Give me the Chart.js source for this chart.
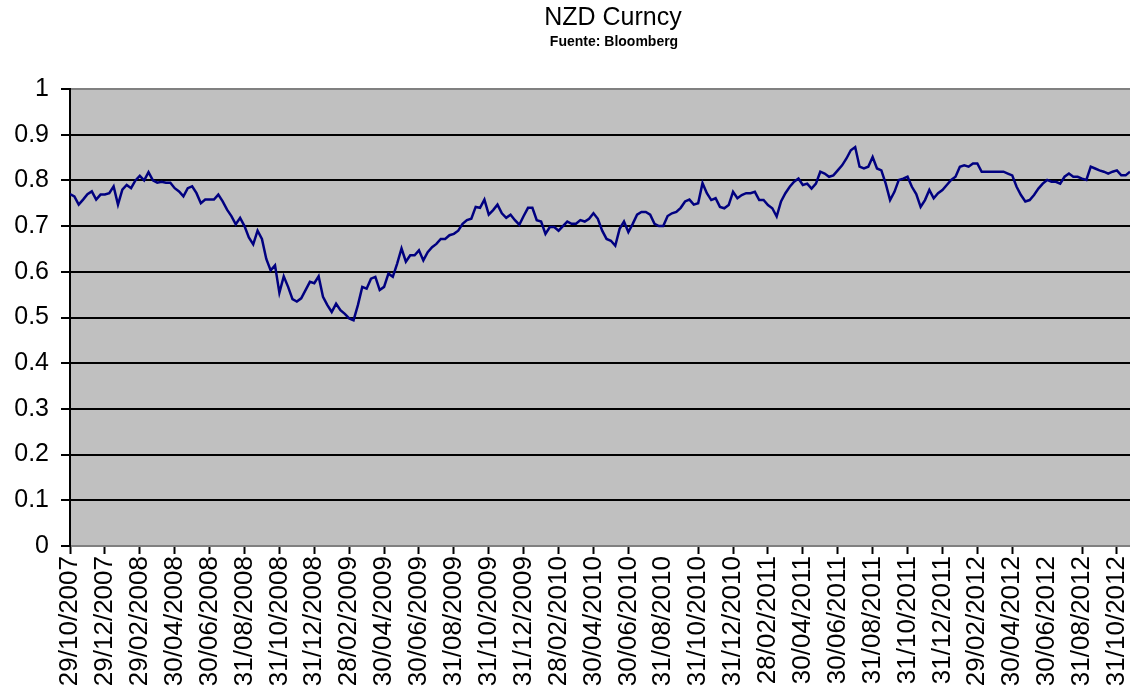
<!DOCTYPE html>
<html>
<head>
<meta charset="utf-8">
<script src="https://cdn.jsdelivr.net/npm/chart.js@4.4.0/dist/chart.umd.min.js"></script>
<style>
html, body { margin: 0; padding: 0; background: #fff; }
#wrap { width: 1130px; height: 688px; }
</style>
</head>
<body>
<div id="wrap"><canvas id="myChart" width="1130" height="688"></canvas></div>
<script>
const chartTitle = 'NZD Curncy';
const chartSource = 'Fuente: Bloomberg';

// fechas del eje x (una cada dos meses)
const dateLabels = [
	'29/10/2007', '29/12/2007', '29/02/2008', '30/04/2008', '30/06/2008', '31/08/2008',
	'31/10/2008', '31/12/2008', '28/02/2009', '30/04/2009', '30/06/2009', '31/08/2009',
	'31/10/2009', '31/12/2009', '28/02/2010', '30/04/2010', '30/06/2010', '31/08/2010',
	'31/10/2010', '31/12/2010', '28/02/2011', '30/04/2011', '30/06/2011', '31/08/2011',
	'31/10/2011', '31/12/2011', '29/02/2012', '30/04/2012', '30/06/2012', '31/08/2012',
	'31/10/2012'
];
// etiquetas sin marca de tick en el original
const noTickMark = ['31/08/2010', '30/06/2012'];

// valores semanales aprox. (8 por cada intervalo de etiqueta)
const pointsPerLabel = 8;
const nzdValues = [
	0.770, 0.765, 0.747, 0.758, 0.770, 0.776, 0.758, 0.769, 0.769, 0.772,
	0.787, 0.747, 0.780, 0.790, 0.783, 0.800, 0.810, 0.800, 0.818, 0.800,
	0.795, 0.797, 0.795, 0.795, 0.783, 0.776, 0.765, 0.783, 0.787, 0.772,
	0.750, 0.758, 0.758, 0.758, 0.769, 0.754, 0.736, 0.722, 0.704, 0.718,
	0.700, 0.675, 0.660, 0.690, 0.672, 0.628, 0.603, 0.614, 0.554, 0.590,
	0.567, 0.540, 0.535, 0.542, 0.560, 0.578, 0.575, 0.590, 0.545, 0.527,
	0.512, 0.530, 0.516, 0.508, 0.498, 0.494, 0.527, 0.567, 0.563, 0.585,
	0.589, 0.560, 0.567, 0.596, 0.589, 0.618, 0.651, 0.622, 0.636, 0.636,
	0.647, 0.625, 0.643, 0.654, 0.661, 0.672, 0.672, 0.680, 0.683, 0.690,
	0.705, 0.713, 0.716, 0.742, 0.740, 0.758, 0.725, 0.735, 0.747, 0.728,
	0.718, 0.725, 0.713, 0.703, 0.722, 0.740, 0.740, 0.713, 0.710, 0.683,
	0.698, 0.698, 0.690, 0.700, 0.710, 0.705, 0.705, 0.713, 0.710, 0.716,
	0.728, 0.716, 0.690, 0.672, 0.668, 0.657, 0.694, 0.710, 0.687, 0.705,
	0.725, 0.731, 0.731, 0.725, 0.705, 0.700, 0.700, 0.722, 0.728, 0.731,
	0.740, 0.754, 0.758, 0.747, 0.750, 0.794, 0.772, 0.757, 0.761, 0.742,
	0.739, 0.746, 0.775, 0.761, 0.768, 0.772, 0.772, 0.775, 0.757, 0.757,
	0.746, 0.739, 0.721, 0.754, 0.772, 0.786, 0.797, 0.804, 0.790, 0.793,
	0.782, 0.793, 0.819, 0.815, 0.808, 0.811, 0.822, 0.833, 0.848, 0.866,
	0.873, 0.830, 0.826, 0.830, 0.851, 0.826, 0.822, 0.793, 0.757, 0.775,
	0.801, 0.804, 0.808, 0.786, 0.770, 0.742, 0.757, 0.779, 0.761, 0.772,
	0.779, 0.790, 0.801, 0.808, 0.830, 0.833, 0.830, 0.837, 0.837, 0.819,
	0.819, 0.819, 0.819, 0.819, 0.819, 0.815, 0.811, 0.786, 0.768, 0.754,
	0.757, 0.768, 0.782, 0.793, 0.801, 0.797, 0.797, 0.793, 0.808, 0.815,
	0.808, 0.808, 0.804, 0.801, 0.830, 0.826, 0.822, 0.819, 0.815, 0.819,
	0.822, 0.811, 0.811, 0.819
];

const yMin = 0;
const yMax = 1;
const yStep = 0.1;

const FONT = '"Liberation Sans", Arial, sans-serif';

const plotBg = {
	id: 'plotBg',
	beforeDraw(chart) {
		const a = chart.chartArea;
		const c = chart.ctx;
		c.save();
		c.fillStyle = '#c0c0c0';
		c.fillRect(a.left, a.top, a.right - a.left, a.bottom - a.top);
		c.restore();
	}
};

const titles = {
	id: 'titles',
	afterDraw(chart) {
		const c = chart.ctx;
		c.save();
		c.fillStyle = '#000';
		c.textAlign = 'center';
		c.textBaseline = 'middle';
		c.font = '25px ' + FONT;
		c.fillText(chartTitle, 613, 18);
		c.font = 'bold 14px ' + FONT;
		c.fillText(chartSource, 614, 42);
		c.restore();
	}
};

const ctx = document.getElementById('myChart');

new Chart(ctx, {
	type: 'line',
	data: {
		datasets: [{
			label: chartTitle,
			data: nzdValues.map((v, i) => ({ x: i, y: v })),
			borderColor: '#000080',
			borderWidth: 2.5,
			pointRadius: 0,
			tension: 0,
			fill: false
		}]
	},
	options: {
		responsive: false,
		animation: false,
		devicePixelRatio: 1,
		layout: { padding: { top: 89, left: 0, right: 0, bottom: 0 } },
		plugins: {
			legend: { display: false },
			tooltip: { enabled: false }
		},
		scales: {
			x: {
				type: 'linear',
				min: 0,
				max: nzdValues.length - 1,
				afterBuildTicks: function(scale) {
					scale.ticks = dateLabels.map((d, k) => ({ value: k * pointsPerLabel }));
				},
				afterFit: function(scale) {
					scale.height = 142;
					scale.paddingLeft = 0;
					scale.paddingRight = 0;
				},
				ticks: {
					autoSkip: false,
					minRotation: 90,
					maxRotation: 90,
					padding: 2,
					color: '#000',
					font: { family: FONT, size: 26 },
					callback: function(value) {
						return dateLabels[Math.round(value / pointsPerLabel)];
					}
				},
				grid: {
					drawOnChartArea: false,
					drawTicks: true,
					tickLength: 8,
					tickWidth: 2,
					tickColor: function(c) {
						const lbl = dateLabels[c.index];
						return noTickMark.includes(lbl) ? 'rgba(0,0,0,0)' : '#000';
					}
				},
				border: { color: '#808080', width: 2 }
			},
			y: {
				min: yMin,
				max: yMax,
				afterFit: function(scale) {
					scale.width = 70;
				},
				ticks: {
					stepSize: yStep,
					padding: 12,
					color: '#000',
					font: { family: FONT, size: 25 },
					callback: function(value) {
						return String(Math.round(value * 10) / 10);
					}
				},
				grid: {
					color: function(c) {
						if (!c.tick) return '#000';
						const v = Math.round(c.tick.value * 10) / 10;
						return (v === yMin || v === yMax) ? '#808080' : '#000';
					},
					lineWidth: 2,
					tickLength: 9,
					tickColor: '#000'
				},
				border: { color: '#000', width: 2 }
			}
		}
	},
	plugins: [plotBg, titles]
});
</script>
</body>
</html>
